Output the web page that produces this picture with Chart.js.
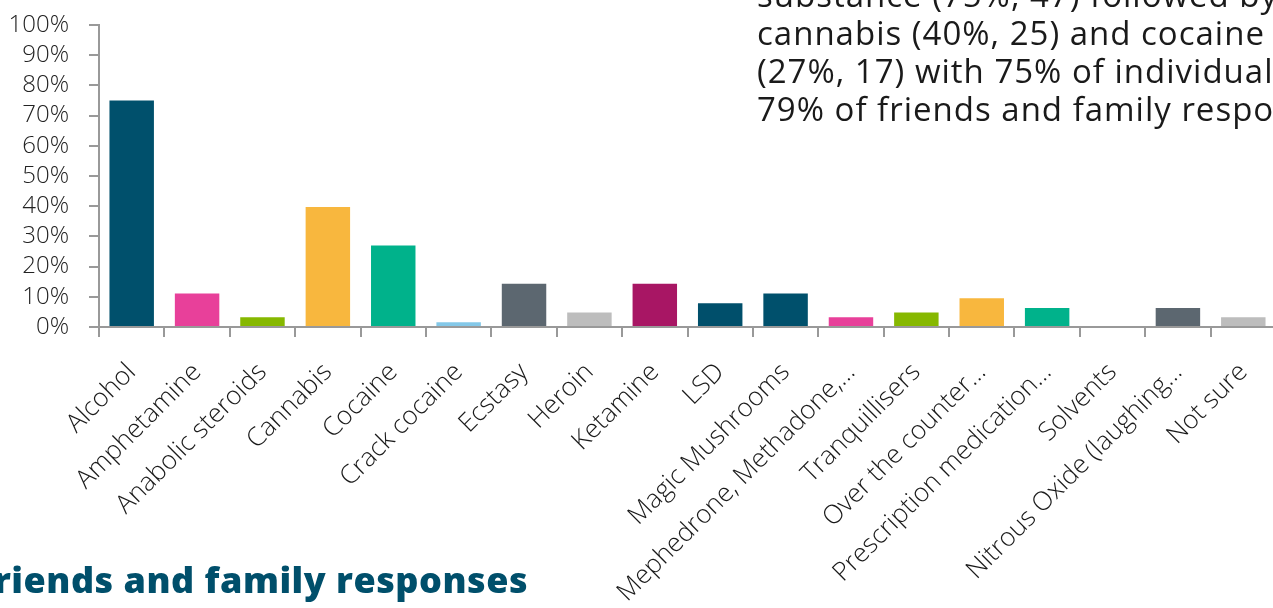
<!DOCTYPE html>
<html>
<head>
<meta charset="utf-8">
<title>Substances used - friends and family responses</title>
<script src="https://cdn.jsdelivr.net/npm/chart.js@4.4.1/dist/chart.umd.min.js"></script>
<style>
    html, body {
        margin: 0;
        padding: 0;
        width: 1273px;
        height: 608px;
        overflow: hidden;
        background: #fff;
    }
    #chart-wrap {
        position: absolute;
        left: 0;
        top: 0;
    }
    .note {
        position: absolute;
        left: 757px;
        top: -24px;
        font-family: "Open Sans", sans-serif;
        font-size: 33px;
        letter-spacing: 1px;
        line-height: 38px;
        color: #1a1a1a;
        white-space: nowrap;
    }
    .caption {
        position: absolute;
        right: 745px;
        top: 555px;
        font-family: "Open Sans", sans-serif;
        font-weight: 800;
        font-size: 36px;
        letter-spacing: 0.5px;
        color: #004f6b;
        white-space: nowrap;
    }
</style>
</head>
<body>
<div id="chart-wrap"><canvas id="drugs-chart" width="1276" height="608"></canvas></div>
<div class="note">
    substance (75%, 47) followed by<br>
    cannabis (40%, 25) and cocaine<br>
    (27%, 17) with 75% of individuals and<br>
    79% of friends and family responses
</div>
<div class="caption">Friends and family responses</div>

<script>
    var categories = [
        'Alcohol', 'Amphetamine', 'Anabolic steroids', 'Cannabis', 'Cocaine',
        'Crack cocaine', 'Ecstasy', 'Heroin', 'Ketamine', 'LSD',
        'Magic Mushrooms', 'Mephedrone, Methadone,\u2026', 'Tranquillisers',
        'Over the counter\u2026', 'Prescription medication\u2026', 'Solvents',
        'Nitrous Oxide (laughing\u2026', 'Not sure'
    ];

    // share of friends and family responses, %
    var percentages = [
        75, 11.1, 3.2, 39.7, 27, 1.6, 14.3, 4.8, 14.3, 7.9,
        11.1, 3.2, 4.8, 9.5, 6.3, 0, 6.3, 3.2
    ];

    // ten colour cycle, repeats from Magic Mushrooms onwards
    var palette = [
        '#00506c', '#e8409a', '#86b800', '#f8b73e', '#00b28b',
        '#84c8e8', '#5c6770', '#bdbdbd', '#a81664', '#004f6b'
    ];

    var axisGrey = '#999999';

    var barColors = categories.map(function(c, i) {
        return palette[i % palette.length];
    });

    new Chart(document.getElementById('drugs-chart'), {
        type: 'bar',
        data: {
            labels: categories,
            datasets: [{
                data: percentages,
                backgroundColor: barColors,
                barPercentage: 0.68,
                categoryPercentage: 1
            }]
        },
        options: {
            responsive: false,
            animation: false,
            layout: {
                autoPadding: false,
                padding: { top: 25, left: 0, right: 0, bottom: 0 }
            },
            plugins: {
                legend: { display: false },
                tooltip: { enabled: false }
            },
            scales: {
                x: {
                    afterFit: function(scale) {
                        scale.height = 281;
                        scale.paddingLeft = 0;
                        scale.paddingRight = 0;
                    },
                    grid: {
                        drawOnChartArea: false,
                        drawTicks: true,
                        tickLength: 10,
                        color: axisGrey,
                        lineWidth: 2
                    },
                    border: { color: axisGrey, width: 2 },
                    ticks: {
                        autoSkip: false,
                        maxRotation: 45,
                        minRotation: 45,
                        padding: 20,
                        color: '#1a1a1a',
                        font: { family: 'Open Sans', size: 26, weight: 300 }
                    }
                },
                y: {
                    min: 0,
                    max: 100,
                    afterFit: function(scale) {
                        scale.width = 99;
                        scale.paddingTop = 0;
                        scale.paddingBottom = 0;
                    },
                    grid: {
                        drawOnChartArea: false,
                        drawTicks: true,
                        tickLength: 10,
                        color: axisGrey,
                        lineWidth: 2
                    },
                    border: { color: axisGrey, width: 2 },
                    ticks: {
                        stepSize: 10,
                        autoSkip: false,
                        padding: 20,
                        color: '#222222',
                        font: { family: 'Open Sans', size: 24, weight: 300 },
                        callback: function(v) { return v + '%'; }
                    }
                }
            }
        }
    });
</script>
</body>
</html>
